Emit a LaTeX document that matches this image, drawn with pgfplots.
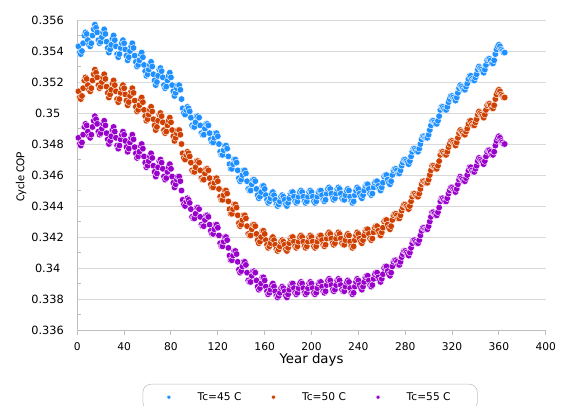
\documentclass[border=0pt]{standalone}
\usepackage{fontspec}
\setmainfont{DejaVu Sans}
\newfontfamily\carlito{Carlito}
\usepackage{pgfplots}
\usepackage{pgfplotstable}
\pgfplotsset{compat=1.18}
\definecolor{cblue}{RGB}{30,144,255}
\definecolor{cred}{RGB}{208,64,0}
\definecolor{cpurple}{RGB}{153,0,204}
\definecolor{gridgray}{RGB}{217,217,217}
\definecolor{axgray}{RGB}{190,190,190}
\pgfplotstableread{
d b r p
1 0.3543 0.3514 0.3484
2 0.3539 0.3510 0.3480
3 0.3538 0.3509 0.3479
4 0.3540 0.3511 0.3481
5 0.3545 0.3516 0.3486
6 0.3550 0.3521 0.3491
7 0.3552 0.3523 0.3493
8 0.3551 0.3522 0.3492
9 0.3547 0.3518 0.3488
10 0.3544 0.3515 0.3485
11 0.3543 0.3514 0.3484
12 0.3545 0.3516 0.3486
13 0.3550 0.3521 0.3491
14 0.3554 0.3525 0.3495
15 0.3557 0.3528 0.3498
16 0.3555 0.3526 0.3496
17 0.3552 0.3523 0.3493
18 0.3547 0.3518 0.3488
19 0.3545 0.3516 0.3486
20 0.3546 0.3517 0.3487
21 0.3549 0.3520 0.3490
22 0.3552 0.3523 0.3493
23 0.3554 0.3525 0.3495
24 0.3551 0.3522 0.3492
25 0.3546 0.3517 0.3487
26 0.3542 0.3513 0.3483
27 0.3539 0.3510 0.3480
28 0.3541 0.3512 0.3482
29 0.3544 0.3515 0.3485
30 0.3548 0.3519 0.3489
31 0.3550 0.3521 0.3491
32 0.3547 0.3518 0.3488
33 0.3543 0.3514 0.3484
34 0.3538 0.3509 0.3479
35 0.3536 0.3507 0.3477
36 0.3538 0.3509 0.3479
37 0.3542 0.3513 0.3483
38 0.3545 0.3516 0.3486
39 0.3547 0.3518 0.3488
40 0.3545 0.3516 0.3486
41 0.3541 0.3512 0.3482
42 0.3537 0.3508 0.3478
43 0.3534 0.3505 0.3475
44 0.3536 0.3507 0.3477
45 0.3540 0.3511 0.3481
46 0.3543 0.3514 0.3484
47 0.3545 0.3516 0.3486
48 0.3542 0.3513 0.3483
49 0.3537 0.3508 0.3478
50 0.3533 0.3504 0.3474
51 0.3530 0.3501 0.3471
52 0.3531 0.3502 0.3472
53 0.3534 0.3505 0.3475
54 0.3538 0.3509 0.3479
55 0.3539 0.3510 0.3480
56 0.3536 0.3507 0.3477
57 0.3531 0.3502 0.3472
58 0.3527 0.3498 0.3468
59 0.3524 0.3495 0.3465
60 0.3525 0.3496 0.3466
61 0.3528 0.3499 0.3469
62 0.3531 0.3502 0.3472
63 0.3533 0.3504 0.3474
64 0.3530 0.3501 0.3471
65 0.3525 0.3496 0.3466
66 0.3521 0.3492 0.3462
67 0.3518 0.3489 0.3459
68 0.3520 0.3491 0.3461
69 0.3524 0.3495 0.3465
70 0.3528 0.3499 0.3469
71 0.3529 0.3500 0.3470
72 0.3527 0.3498 0.3468
73 0.3523 0.3494 0.3464
74 0.3518 0.3489 0.3459
75 0.3516 0.3487 0.3457
76 0.3517 0.3488 0.3458
77 0.3521 0.3492 0.3462
78 0.3524 0.3495 0.3465
79 0.3526 0.3497 0.3467
80 0.3523 0.3494 0.3464
81 0.3518 0.3489 0.3459
82 0.3514 0.3485 0.3455
83 0.3511 0.3482 0.3452
84 0.3513 0.3484 0.3454
85 0.3516 0.3487 0.3457
86 0.3518 0.3489 0.3459
87 0.3518 0.3489 0.3459
88 0.3515 0.3486 0.3456
89 0.3509 0.3480 0.3450
90 0.3503 0.3474 0.3444
91 0.3500 0.3471 0.3441
92 0.3499 0.3470 0.3440
93 0.3502 0.3473 0.3443
94 0.3504 0.3475 0.3445
95 0.3503 0.3474 0.3444
96 0.3501 0.3472 0.3442
97 0.3497 0.3468 0.3438
98 0.3492 0.3463 0.3433
99 0.3491 0.3462 0.3432
100 0.3491 0.3462 0.3432
101 0.3494 0.3465 0.3435
102 0.3498 0.3469 0.3439
103 0.3498 0.3469 0.3439
104 0.3497 0.3468 0.3438
105 0.3492 0.3463 0.3433
106 0.3487 0.3458 0.3428
107 0.3486 0.3457 0.3427
108 0.3486 0.3457 0.3427
109 0.3490 0.3461 0.3431
110 0.3493 0.3464 0.3434
111 0.3493 0.3464 0.3434
112 0.3492 0.3463 0.3433
113 0.3487 0.3458 0.3428
114 0.3483 0.3454 0.3424
115 0.3481 0.3452 0.3422
116 0.3481 0.3452 0.3422
117 0.3484 0.3455 0.3425
118 0.3487 0.3458 0.3428
119 0.3487 0.3458 0.3428
120 0.3485 0.3456 0.3426
121 0.3480 0.3451 0.3421
122 0.3475 0.3446 0.3416
123 0.3473 0.3444 0.3414
124 0.3473 0.3444 0.3414
125 0.3476 0.3447 0.3417
126 0.3479 0.3450 0.3420
127 0.3479 0.3450 0.3420
128 0.3477 0.3448 0.3418
129 0.3472 0.3443 0.3413
130 0.3467 0.3438 0.3408
131 0.3464 0.3435 0.3405
132 0.3464 0.3435 0.3405
133 0.3467 0.3438 0.3408
134 0.3470 0.3441 0.3411
135 0.3470 0.3441 0.3411
136 0.3468 0.3439 0.3409
137 0.3463 0.3434 0.3404
138 0.3458 0.3429 0.3399
139 0.3456 0.3427 0.3397
140 0.3457 0.3428 0.3398
141 0.3460 0.3431 0.3401
142 0.3463 0.3434 0.3404
143 0.3463 0.3434 0.3404
144 0.3461 0.3432 0.3402
145 0.3456 0.3427 0.3397
146 0.3451 0.3422 0.3392
147 0.3450 0.3421 0.3391
148 0.3450 0.3421 0.3391
149 0.3454 0.3425 0.3395
150 0.3457 0.3428 0.3398
151 0.3457 0.3428 0.3398
152 0.3456 0.3427 0.3397
153 0.3451 0.3422 0.3392
154 0.3447 0.3418 0.3388
155 0.3445 0.3416 0.3386
156 0.3446 0.3417 0.3387
157 0.3449 0.3420 0.3390
158 0.3453 0.3424 0.3394
159 0.3453 0.3424 0.3394
160 0.3451 0.3422 0.3392
161 0.3447 0.3418 0.3388
162 0.3444 0.3415 0.3385
163 0.3442 0.3413 0.3383
164 0.3443 0.3414 0.3384
165 0.3445 0.3416 0.3386
166 0.3448 0.3419 0.3389
167 0.3449 0.3420 0.3390
168 0.3447 0.3418 0.3388
169 0.3444 0.3415 0.3385
170 0.3441 0.3412 0.3382
171 0.3440 0.3411 0.3381
172 0.3441 0.3412 0.3382
173 0.3443 0.3414 0.3384
174 0.3446 0.3417 0.3387
175 0.3447 0.3418 0.3388
176 0.3446 0.3417 0.3387
177 0.3444 0.3415 0.3385
178 0.3441 0.3412 0.3382
179 0.3440 0.3411 0.3381
180 0.3442 0.3413 0.3383
181 0.3445 0.3416 0.3386
182 0.3448 0.3419 0.3389
183 0.3449 0.3420 0.3390
184 0.3449 0.3420 0.3390
185 0.3446 0.3417 0.3387
186 0.3443 0.3414 0.3384
187 0.3442 0.3413 0.3383
188 0.3443 0.3414 0.3384
189 0.3446 0.3417 0.3387
190 0.3449 0.3420 0.3390
191 0.3450 0.3421 0.3391
192 0.3449 0.3420 0.3390
193 0.3446 0.3417 0.3387
194 0.3443 0.3414 0.3384
195 0.3442 0.3413 0.3383
196 0.3443 0.3414 0.3384
197 0.3446 0.3417 0.3387
198 0.3449 0.3420 0.3390
199 0.3450 0.3421 0.3391
200 0.3449 0.3420 0.3390
201 0.3446 0.3417 0.3387
202 0.3443 0.3414 0.3384
203 0.3442 0.3413 0.3383
204 0.3443 0.3414 0.3384
205 0.3446 0.3417 0.3387
206 0.3449 0.3420 0.3390
207 0.3450 0.3421 0.3391
208 0.3450 0.3421 0.3391
209 0.3447 0.3418 0.3388
210 0.3444 0.3415 0.3385
211 0.3443 0.3414 0.3384
212 0.3444 0.3415 0.3385
213 0.3448 0.3419 0.3389
214 0.3451 0.3422 0.3392
215 0.3452 0.3423 0.3393
216 0.3451 0.3422 0.3392
217 0.3448 0.3419 0.3389
218 0.3445 0.3416 0.3386
219 0.3444 0.3415 0.3385
220 0.3445 0.3416 0.3386
221 0.3448 0.3419 0.3389
222 0.3451 0.3422 0.3392
223 0.3452 0.3423 0.3393
224 0.3451 0.3422 0.3392
225 0.3448 0.3419 0.3389
226 0.3445 0.3416 0.3386
227 0.3444 0.3415 0.3385
228 0.3444 0.3415 0.3385
229 0.3447 0.3418 0.3388
230 0.3450 0.3421 0.3391
231 0.3451 0.3422 0.3392
232 0.3450 0.3421 0.3391
233 0.3446 0.3417 0.3387
234 0.3443 0.3414 0.3384
235 0.3442 0.3413 0.3383
236 0.3443 0.3414 0.3384
237 0.3447 0.3418 0.3388
238 0.3450 0.3421 0.3391
239 0.3452 0.3423 0.3393
240 0.3451 0.3422 0.3392
241 0.3448 0.3419 0.3389
242 0.3446 0.3417 0.3387
243 0.3445 0.3416 0.3386
244 0.3447 0.3418 0.3388
245 0.3450 0.3421 0.3391
246 0.3453 0.3424 0.3394
247 0.3454 0.3425 0.3395
248 0.3454 0.3425 0.3395
249 0.3451 0.3422 0.3392
250 0.3448 0.3419 0.3389
251 0.3447 0.3418 0.3388
252 0.3448 0.3419 0.3389
253 0.3452 0.3423 0.3393
254 0.3455 0.3426 0.3396
255 0.3456 0.3427 0.3397
256 0.3456 0.3427 0.3397
257 0.3453 0.3424 0.3394
258 0.3451 0.3422 0.3392
259 0.3450 0.3421 0.3391
260 0.3452 0.3423 0.3393
261 0.3455 0.3426 0.3396
262 0.3459 0.3430 0.3400
263 0.3460 0.3431 0.3401
264 0.3460 0.3431 0.3401
265 0.3457 0.3428 0.3398
266 0.3455 0.3426 0.3396
267 0.3454 0.3425 0.3395
268 0.3456 0.3427 0.3397
269 0.3460 0.3431 0.3401
270 0.3463 0.3434 0.3404
271 0.3464 0.3435 0.3405
272 0.3464 0.3435 0.3405
273 0.3463 0.3434 0.3404
274 0.3461 0.3432 0.3402
275 0.3461 0.3432 0.3402
276 0.3463 0.3434 0.3404
277 0.3466 0.3437 0.3407
278 0.3468 0.3439 0.3409
279 0.3470 0.3441 0.3411
280 0.3470 0.3441 0.3411
281 0.3469 0.3440 0.3410
282 0.3468 0.3439 0.3409
283 0.3467 0.3438 0.3408
284 0.3469 0.3440 0.3410
285 0.3472 0.3443 0.3413
286 0.3475 0.3446 0.3416
287 0.3477 0.3448 0.3418
288 0.3477 0.3448 0.3418
289 0.3476 0.3447 0.3417
290 0.3475 0.3446 0.3416
291 0.3475 0.3446 0.3416
292 0.3477 0.3448 0.3418
293 0.3480 0.3451 0.3421
294 0.3483 0.3454 0.3424
295 0.3485 0.3456 0.3426
296 0.3485 0.3456 0.3426
297 0.3484 0.3455 0.3425
298 0.3484 0.3455 0.3425
299 0.3484 0.3455 0.3425
300 0.3486 0.3457 0.3427
301 0.3489 0.3460 0.3430
302 0.3492 0.3463 0.3433
303 0.3495 0.3466 0.3436
304 0.3495 0.3466 0.3436
305 0.3494 0.3465 0.3435
306 0.3493 0.3464 0.3434
307 0.3493 0.3464 0.3434
308 0.3495 0.3466 0.3436
309 0.3498 0.3469 0.3439
310 0.3502 0.3473 0.3443
311 0.3504 0.3475 0.3445
312 0.3504 0.3475 0.3445
313 0.3503 0.3474 0.3444
314 0.3502 0.3473 0.3443
315 0.3502 0.3473 0.3443
316 0.3504 0.3475 0.3445
317 0.3507 0.3478 0.3448
318 0.3509 0.3480 0.3450
319 0.3511 0.3482 0.3452
320 0.3511 0.3482 0.3452
321 0.3510 0.3481 0.3451
322 0.3509 0.3480 0.3450
323 0.3508 0.3479 0.3449
324 0.3510 0.3481 0.3451
325 0.3513 0.3484 0.3454
326 0.3516 0.3487 0.3457
327 0.3518 0.3489 0.3459
328 0.3517 0.3488 0.3458
329 0.3516 0.3487 0.3457
330 0.3515 0.3486 0.3456
331 0.3515 0.3486 0.3456
332 0.3517 0.3488 0.3458
333 0.3519 0.3490 0.3460
334 0.3522 0.3493 0.3463
335 0.3524 0.3495 0.3465
336 0.3524 0.3495 0.3465
337 0.3522 0.3493 0.3463
338 0.3521 0.3492 0.3462
339 0.3521 0.3492 0.3462
340 0.3523 0.3494 0.3464
341 0.3525 0.3496 0.3466
342 0.3528 0.3499 0.3469
343 0.3530 0.3501 0.3471
344 0.3529 0.3500 0.3470
345 0.3528 0.3499 0.3469
346 0.3527 0.3498 0.3468
347 0.3526 0.3497 0.3467
348 0.3528 0.3499 0.3469
349 0.3531 0.3502 0.3472
350 0.3534 0.3505 0.3475
351 0.3535 0.3506 0.3476
352 0.3535 0.3506 0.3476
353 0.3534 0.3505 0.3475
354 0.3532 0.3503 0.3473
355 0.3532 0.3503 0.3473
356 0.3534 0.3505 0.3475
357 0.3538 0.3509 0.3479
358 0.3541 0.3512 0.3482
359 0.3543 0.3514 0.3484
360 0.3544 0.3515 0.3485
361 0.3543 0.3514 0.3484
362 0.3541 0.3512 0.3482
363 0.3540 0.3511 0.3481
364 0.3539 0.3510 0.3480
365 0.3539 0.3510 0.3480
}\cop
\begin{document}
\begin{tikzpicture}
\begin{axis}[
  at={(0pt,0pt)}, anchor=south west,
  scale only axis, width=351.3pt, height=232.5pt,
  xmin=0, xmax=400, ymin=0.336, ymax=0.356,
  xtick={0,40,80,120,160,200,240,280,320,360,400},
  ytick={0.336,0.338,0.34,0.342,0.344,0.346,0.348,0.35,0.352,0.354,0.356},
  minor y tick num=1,
  axis x line*=bottom, axis y line*=left,
  axis line style={draw=axgray, line width=0.75pt},
  ymajorgrids, major grid style={draw=gridgray, line width=0.75pt},
  tick align=outside,
  major tick length=3.75pt, minor tick length=3pt,
  tick style={draw=axgray, line width=0.75pt},
  major y tick style={draw=none},
  minor y tick style={xshift=3pt},
  scaled y ticks=false,
  /pgf/number format/assume math mode=true,
  yticklabel style={/pgf/number format/fixed, /pgf/number format/precision=3,
    font=\fontsize{8.5}{10}\selectfont, anchor=center, xshift=-18.5pt},
  xticklabel style={font=\fontsize{8}{9.6}\selectfont, anchor=center, yshift=-8.6pt},
  xlabel={Year days},
  xlabel style={font=\fontsize{10}{12}\selectfont, at={(axis description cs:0.5,-0.0968)}, anchor=center},
  ylabel={\carlito Cycle COP},
  ylabel style={font=\fontsize{9.2}{11}\selectfont, at={(axis description cs:-0.120,0.4945)}, anchor=center},
  legend columns=3,
  legend image post style={mark size=1.5pt},
  legend style={at={(0.497,-0.174)}, anchor=north, draw=axgray, rounded corners=6pt,
    font=\fontsize{8}{9.6}\selectfont, inner xsep=18pt, inner ysep=4pt,
    /tikz/every odd column/.append style={column sep=18pt},
    /tikz/every even column/.append style={column sep=20.5pt}},
]
\addplot[only marks, mark=*, mark size=2.5pt, mark options={fill=cblue, draw=white, line width=0.3pt}] table[x=d, y=b] {\cop};
\addlegendentry{Tc=45 C}
\addplot[only marks, mark=*, mark size=2.5pt, mark options={fill=cred, draw=white, line width=0.3pt}] table[x=d, y=r] {\cop};
\addlegendentry{Tc=50 C}
\addplot[only marks, mark=*, mark size=2.5pt, mark options={fill=cpurple, draw=white, line width=0.3pt}] table[x=d, y=p] {\cop};
\addlegendentry{Tc=55 C}
\end{axis}
\pgfresetboundingbox
\path[use as bounding box] (-57.975pt,-56.25pt) rectangle (364.275pt,247.5pt);
\end{tikzpicture}
\end{document}
